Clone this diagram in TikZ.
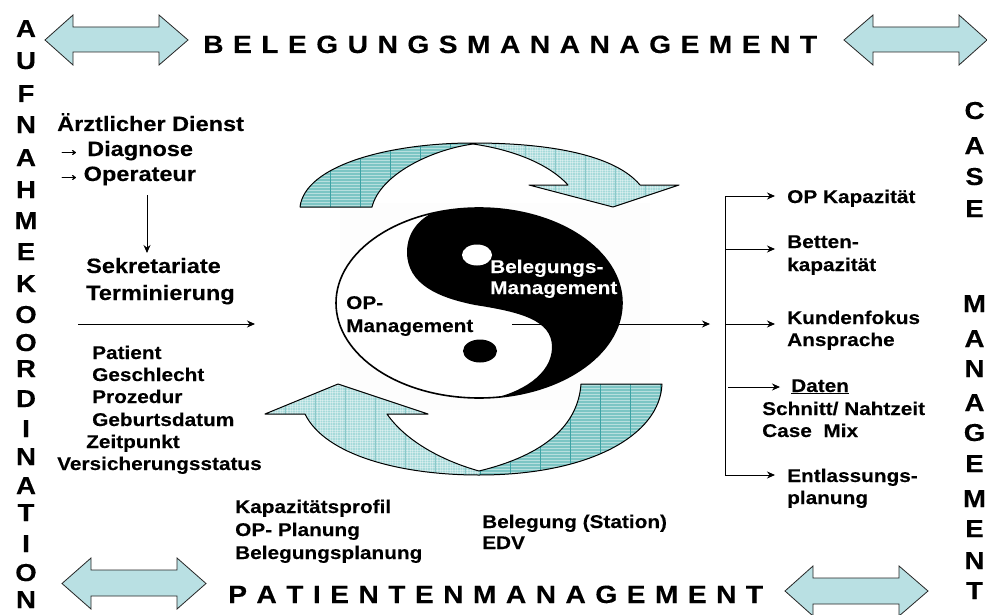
\documentclass[tikz,border=0pt]{standalone}
\usepackage{fontspec}
\setmainfont[FakeStretch=1.13,BoldFeatures={FakeBold=0.15}]{Liberation Sans}
\usetikzlibrary{arrows.meta}
\definecolor{arrowfill}{HTML}{B9E0E3}
\definecolor{hatchdark}{HTML}{7CC5C4}
\definecolor{hatchlight}{HTML}{A6DADA}
\definecolor{hatchline}{HTML}{3FA3A5}
\newcommand{\dblarrow}[8]{% tipL baseL baseR tipR top shafttop shaftbot bot
  \pgfmathsetmacro{\midy}{(#5+#8)/2}
  \draw[dblstyle] (#1,\midy) -- (#2,#5) -- (#2,#6) -- (#3,#6) -- (#3,#5) -- (#4,\midy) -- (#3,#8) -- (#3,#7) -- (#2,#7) -- (#2,#8) -- cycle;
}
\newcommand{\hatchdarkfill}{%
  \fill[hatchdark] (250,130) rectangle (700,480);
  \foreach \yy in {130,133,...,480} {\draw[white,opacity=.45,line width=.5pt] (250,\yy) -- (700,\yy);}
  \foreach \xx in {270,300,...,690} {\draw[hatchline,line width=.5pt] (\xx,130) -- (\xx,480);}
}
\newcommand{\hatchlightfill}{%
  \fill[hatchlight] (250,130) rectangle (700,480);
  \foreach \yy in {130,132.5,...,480} {\draw[white,opacity=.35,line width=.5pt] (250,\yy) -- (700,\yy);}
  \foreach \xx in {250,252.5,...,700} {\draw[white,opacity=.35,line width=.5pt] (\xx,130) -- (\xx,480);}
  \foreach \xx in {285,315,...,690} {\draw[hatchline!60,line width=.4pt] (\xx,130) -- (\xx,480);}
}
\tikzset{
  dblstyle/.style={draw=black!85,line width=.8pt,fill=arrowfill},
  lbl/.style={anchor=base west,inner sep=0pt,font=\fontsize{18.4}{20}\selectfont\bfseries},
  lblbig/.style={anchor=base west,inner sep=0pt,font=\fontsize{20.8}{22}\selectfont\bfseries},
  side/.style={anchor=base,inner sep=0pt,font=\fontsize{24.5}{27}\selectfont\bfseries},
  title/.style={anchor=base west,inner sep=0pt,font=\fontsize{25}{27}\selectfont\bfseries},
  conn/.style={draw=black,line width=.9pt,-{Stealth[length=8pt,width=7pt]}},
  trunk/.style={draw=black,line width=.9pt},
  hatchedge/.style={draw=black,line width=1pt,line join=round},
}
\begin{document}
\begin{tikzpicture}[x=1pt,y=-1pt]
\useasboundingbox (0,0) rectangle (987,615);
\fill[white] (0,0) rectangle (987,615);
\fill[black!0.7] (340,203) rectangle (650,410);

% double arrows
\dblarrow{45}{73}{159}{188}{15}{27}{52}{65}
\dblarrow{844}{873}{959}{987}{15}{27}{52}{65}
\dblarrow{62}{91}{177}{206}{558}{570}{596}{609}
\dblarrow{785}{813}{899}{928}{566}{578}{604}{616}

% top curved arrow
\begin{scope}
\clip (300,207) .. controls (305,165) and (390,143) .. (473,143) -- (473,144) .. controls (430,150) and (380,175) .. (372,207) -- cycle;
\hatchdarkfill
\end{scope}
\begin{scope}
\clip (473,143) .. controls (550,143) and (615,155) .. (640,185) -- (679,185) -- (613,207) -- (529,185) -- (568,185) .. controls (550,165) and (515,150) .. (473,144) -- cycle;
\hatchlightfill
\end{scope}
\draw[hatchedge] (473,143) .. controls (390,143) and (305,165) .. (300,207) -- (372,207) .. controls (380,175) and (430,150) .. (473,144) .. controls (515,150) and (550,165) .. (568,185) -- (529,185) -- (613,207) -- (679,185) -- (640,185) .. controls (615,155) and (550,143) .. (473,143);

% bottom curved arrow
\begin{scope}
\clip (338,384) -- (265,414) -- (305,414) .. controls (325,455) and (400,475) .. (479,475) -- (479,471) .. controls (440,460) and (405,440) .. (387,414) -- (428,414) -- cycle;
\hatchlightfill
\end{scope}
\begin{scope}
\clip (479,475) .. controls (590,475) and (660,435) .. (662,384) -- (581,384) .. controls (578,425) and (545,455) .. (479,471) -- cycle;
\hatchdarkfill
\end{scope}
\draw[hatchedge] (338,384) -- (265,414) -- (305,414) .. controls (325,455) and (400,475) .. (479,475) .. controls (590,475) and (660,435) .. (662,384) -- (581,384) .. controls (578,425) and (545,455) .. (479,471) .. controls (440,460) and (405,440) .. (387,414) -- (428,414) -- cycle;

% yin yang
\begin{scope}
\clip (479,303) ellipse [x radius=143,y radius=95];
\fill[white] (330,200) rectangle (630,405);
\fill[black] (445,208) .. controls (420,215) and (407,232) .. (407,252) .. controls (407,285) and (440,298) .. (475,305) .. controls (520,312) and (552,320) .. (552,347) .. controls (552,375) and (520,393) .. (490,399) -- (640,420) -- (640,190) -- cycle;
\end{scope}
\draw[black,line width=1.6pt] (479,303) ellipse [x radius=143,y radius=95];
\fill[white] (477,255) ellipse [x radius=15,y radius=10.5];
\fill[black] (480,351) ellipse [x radius=17,y radius=11.5];

% connectors
\coordinate (downS) at (147,195);
\coordinate (downE) at (147,253);
\coordinate (inS) at (78,324);
\coordinate (inE) at (255,324);
\coordinate (yyS) at (512,324);
\coordinate (yyE) at (710,324);
\coordinate (trT) at (725,196);
\coordinate (trB) at (725,475);
\coordinate (b1) at (725,249);
\coordinate (b2) at (725,324);
\coordinate (dS) at (728,387);
\draw[conn] (downS) -- (downE);
\draw[conn] (inS) -- (inE);
\draw[conn] (yyS) -- (yyE);

% left texts
\node[lblbig] (aerzt) at (57,131) {Ärztlicher Dienst};
\node[lblbig] (diag) at (57,156) {→ Diagnose};
\node[lblbig] (oper) at (57,181) {→\kern3pt Operateur};
\node[lblbig] (sek) at (86,273) {Sekretariate};
\node[lblbig] (term) at (86,300) {Terminierung};
\node[lbl] (pat) at (92,359) {Patient};
\node[lbl] (ges) at (92,381) {Geschlecht};
\node[lbl] (pro) at (92,403) {Prozedur};
\node[lbl] (geb) at (92,426) {Geburtsdatum};
\node[lbl] (zei) at (86,448) {Zeitpunkt};
\node[lbl] (ver) at (57,470) {Versicherungsstatus};
\node[lbl] (kap) at (235,513) {Kapazitätsprofil};
\node[lbl] (opp) at (235,536) {OP- Planung};
\node[lbl] (bel) at (235,559) {Belegungsplanung};
\node[lbl] (bst) at (482,528) {Belegung (Station)};
\node[lbl] (edv) at (482,549) {EDV};

% yin yang texts
\node[lbl,text=white] (bm1) at (490,273) {Belegungs-};
\node[lbl,text=white] (bm2) at (490,294) {Management};
\node[lbl] (om1) at (346,309) {OP-};
\node[lbl] (om2) at (346,332) {Management};

% right texts
\node[lbl] (r1) at (787,203) {OP Kapazität};
\node[lbl] (r2) at (787,248) {Betten-};
\node[lbl] (r2b) at (787,271) {kapazität};
\node[lbl] (r3) at (787,324) {Kundenfokus};
\node[lbl] (r3b) at (787,346) {Ansprache};
\node[lbl] (r4) at (791,392) {\underline{Daten}};
\node[lbl] (r4b) at (762,415) {Schnitt/ Nahtzeit};
\node[lbl] (r4c) at (762,437) {Case\ \ Mix};
\node[lbl] (r5) at (787,482) {Entlassungs-};
\node[lbl] (r5b) at (787,504) {planung};

\draw[trunk] (trT) -- (trB);
\draw[conn] (trT) -- (775,196);
\draw[conn] (b1) -- (775,249);
\draw[conn] (b2) -- (775,324);
\draw[conn] (trB) -- (775,475);
\draw[conn] (dS) -- (780,387);

% titles
\node[title] (t1) at (203,53) {\makebox[614pt][s]{B\hfil E\hfil L\hfil E\hfil G\hfil U\hfil N\hfil G\hfil S\hfil M\hfil A\hfil N\hfil A\hfil N\hfil A\hfil G\hfil E\hfil M\hfil E\hfil N\hfil T}};
\node[title] (t2) at (228,603) {\makebox[535pt][s]{P\hfil A\hfil T\hfil I\hfil E\hfil N\hfil T\hfil E\hfil N\hfil M\hfil A\hfil N\hfil A\hfil G\hfil E\hfil M\hfil E\hfil N\hfil T}};

% side letters
\foreach \ch/\yy [count=\i] in {A/37,U/69,F/102,N/133,A/166,H/198,M/229,E/260,K/292,O/323,O/351,R/377,D/407,I/437,N/465,A/494,T/521,I/552,O/581,N/608}
  {\node[side] (l\i) at (26,\yy) {\ch};}
\foreach \ch/\yy [count=\i] in {C/119,A/154,S/185,E/217,M/312,A/347,N/377,A/411,G/441,E/472,M/507,E/537,N/569,T/599}
  {\node[side] (s\i) at (974.5,\yy) {\ch};}
\end{tikzpicture}
\end{document}
